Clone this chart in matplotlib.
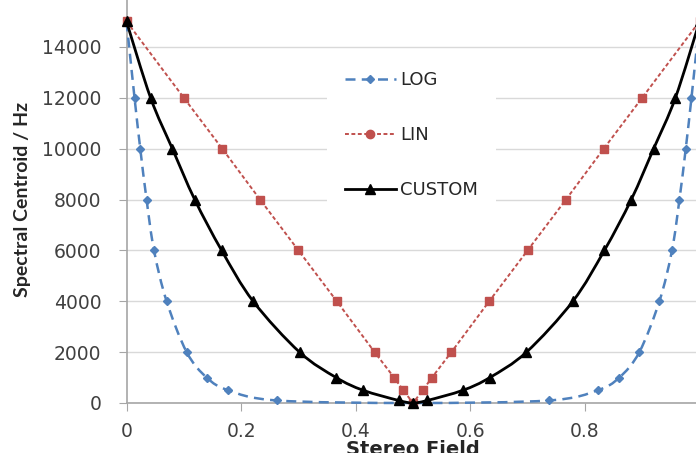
import matplotlib
matplotlib.use("Agg")
import matplotlib.pyplot as plt
from matplotlib.path import Path
from matplotlib.patches import PathPatch
from matplotlib.lines import Line2D

# ---- data ----
log_x = [0.0, 0.014, 0.024, 0.035, 0.048, 0.070, 0.105, 0.140, 0.178, 0.262, 0.5,
         0.738, 0.822, 0.860, 0.895, 0.930, 0.952, 0.965, 0.976, 0.986, 1.0]
log_y = [15000, 12000, 10000, 8000, 6000, 4000, 2000, 1000, 500, 100, 0,
         100, 500, 1000, 2000, 4000, 6000, 8000, 10000, 12000, 15000]

lin_x = [0.0, 0.100, 0.167, 0.233, 0.300, 0.367, 0.433, 0.467, 0.483, 0.5,
         0.517, 0.533, 0.567, 0.633, 0.700, 0.767, 0.833, 0.900, 1.0]
lin_y = [15000, 12000, 10000, 8000, 6000, 4000, 2000, 1000, 500, 0,
         500, 1000, 2000, 4000, 6000, 8000, 10000, 12000, 15000]

cus_x = [0.0, 0.042, 0.080, 0.119, 0.166, 0.221, 0.302, 0.366, 0.413, 0.475, 0.5,
         0.525, 0.587, 0.634, 0.698, 0.779, 0.834, 0.881, 0.920, 0.958, 1.0]
cus_y = [15000, 12000, 10000, 8000, 6000, 4000, 2000, 1000, 500, 100, 0,
         100, 500, 1000, 2000, 4000, 6000, 8000, 10000, 12000, 15000]

y_ticks = [0, 2000, 4000, 6000, 8000, 10000, 12000, 14000]
x_ticks = [0, 0.2, 0.4, 0.6, 0.8, 1]
x_ticklabels = ["0", "0.2", "0.4", "0.6", "0.8", "1"]


def smooth_path(xs, ys, t=1 / 6):
    """Excel-like smoothed line: cubic Bezier through the data points."""
    pts = list(zip(xs, ys))
    verts = [pts[0]]
    codes = [Path.MOVETO]
    n = len(pts)
    for i in range(n - 1):
        p0 = pts[i - 1] if i > 0 else pts[i]
        p1 = pts[i]
        p2 = pts[i + 1]
        p3 = pts[i + 2] if i + 2 < n else pts[i + 1]
        c1 = (p1[0] + (p2[0] - p0[0]) * t, p1[1] + (p2[1] - p0[1]) * t)
        c2 = (p2[0] - (p3[0] - p1[0]) * t, p2[1] - (p3[1] - p1[1]) * t)
        verts += [c1, c2, p2]
        codes += [Path.CURVE4] * 3
    return Path(verts, codes)


W, H = 696, 453
fig = plt.figure(figsize=(W / 100, H / 100), dpi=100)
left, right = 126.5, 699.5
bottom_px, top_px = 403.0, -4.0
ax = fig.add_axes([left / W, 1 - bottom_px / H, (right - left) / W, (bottom_px - top_px) / H])

ax.set_xlim(0, 1)
ax.set_ylim(0, 16000)

BLUE, RED = "#4F81BD", "#C0504D"
log_ls = (0, (4, 2.5))
lin_ls = (0, (2, 1.3))

# LOG (smoothed dashed)
ax.add_patch(PathPatch(smooth_path(log_x, log_y), fill=False, edgecolor=BLUE, lw=1.8,
                       linestyle=log_ls, clip_on=False, zorder=3))
ax.plot(log_x, log_y, linestyle="none", marker="D", markersize=4, color=BLUE,
        clip_on=False, zorder=3)
# LIN (straight dotted)
ax.plot(lin_x, lin_y, color=RED, lw=1.4, linestyle=lin_ls, marker="s", markersize=5.5,
        clip_on=False, zorder=4)
# CUSTOM (smoothed solid)
ax.add_patch(PathPatch(smooth_path(cus_x, cus_y), fill=False, edgecolor="black", lw=2.0,
                       clip_on=False, zorder=5))
ax.plot(cus_x, cus_y, linestyle="none", marker="^", markersize=7.5, color="black",
        clip_on=False, zorder=5)

ax.set_yticks(y_ticks)
ax.set_xticks(x_ticks)
ax.set_xticklabels(x_ticklabels)
ax.grid(axis="y", color="#D9D9D9", lw=1)
ax.set_axisbelow(True)

for s in ["top", "right"]:
    ax.spines[s].set_visible(False)
for s in ["left", "bottom"]:
    ax.spines[s].set_color("#A6A6A6")
    ax.spines[s].set_linewidth(1.2)

ax.tick_params(axis="y", length=6, color="#A6A6A6", labelsize=13.5, pad=12, labelcolor="#404040")
ax.tick_params(axis="x", length=6, color="#A6A6A6", labelsize=13.5, pad=8, labelcolor="#404040")

ax.set_ylabel("Spectral Centroid / Hz", fontsize=14, fontfamily="Lato", fontweight="bold",
              color="#262626", labelpad=8)
ax.set_xlabel("Stereo Field", fontsize=14, fontweight="bold", color="#262626", labelpad=-1)

handles = [
    Line2D([], [], color=BLUE, lw=1.8, linestyle=log_ls, marker="D", markersize=4),
    Line2D([], [], color=RED, lw=1.4, linestyle=lin_ls, marker="o", markersize=6),
    Line2D([], [], color="black", lw=2.0, linestyle="-", marker="^", markersize=6.5),
]
labels = ["LOG", "LIN", "CUSTOM"]
leg = ax.legend(handles, labels, loc="upper left", bbox_to_anchor=(318 / W, 1 - 44 / H),
                bbox_transform=fig.transFigure, frameon=True, fontsize=13,
                handlelength=2.8, handletextpad=0.25, labelspacing=2.05,
                borderpad=1.0)
leg.get_frame().set_facecolor("white")
leg.get_frame().set_edgecolor("none")
leg.get_frame().set_alpha(1)
for t in leg.get_texts():
    t.set_color("#262626")

fig.savefig("out.png", dpi=100)
